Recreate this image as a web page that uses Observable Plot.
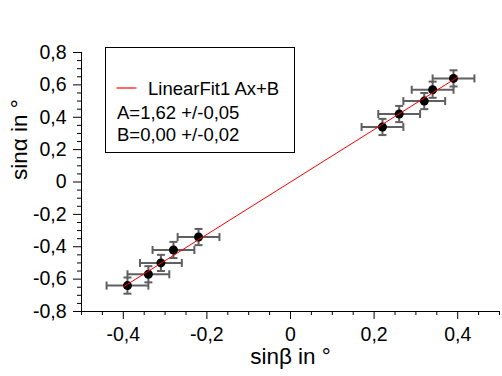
<!DOCTYPE html>
<html>
<head>
<meta charset="utf-8">
<script src="https://cdn.jsdelivr.net/npm/d3@7"></script>
<script src="https://cdn.jsdelivr.net/npm/@observablehq/plot@0.6"></script>
<style>
  html, body { margin: 0; padding: 0; background: #fff; }
</style>
</head>
<body>
<div id="chart"></div>
<script>
// Data
const sinBeta  = [-0.39, -0.34, -0.31, -0.28, -0.22, 0.22, 0.26, 0.32, 0.34, 0.39];
const sinAlpha = [-0.64, -0.57, -0.50, -0.42, -0.34, 0.34, 0.42, 0.50, 0.57, 0.64];
const errBeta  = [0.05, 0.05, 0.05, 0.05, 0.05, 0.05, 0.05, 0.05, 0.05, 0.05];
const errAlpha = [0.05, 0.05, 0.05, 0.05, 0.05, 0.05, 0.05, 0.05, 0.05, 0.05];

// Linear fit endpoints (A=1.62, B=0.00)
const fitX = [-0.40, 0.40];
const fitY = [-0.648, 0.648];

// Axis ticks
const xMajor = [-0.4, -0.2, 0, 0.2, 0.4];
const xMinor = [-0.5, -0.45, -0.35, -0.3, -0.25, -0.15, -0.1, -0.05, 0.05, 0.1, 0.15, 0.25, 0.3, 0.35, 0.45, 0.5];
const yMajor = [-0.8, -0.6, -0.4, -0.2, 0, 0.2, 0.4, 0.6, 0.8];
const yMinor = [-0.75, -0.7, -0.65, -0.55, -0.5, -0.45, -0.35, -0.3, -0.25, -0.15, -0.1, -0.05,
                0.05, 0.1, 0.15, 0.25, 0.3, 0.35, 0.45, 0.5, 0.55, 0.65, 0.7, 0.75];

const legendLines = ["LinearFit1 Ax+B", "A=1,62 +/-0,05", "B=0,00 +/-0,02"];
const xLabel = "sinβ in °";
const yLabel = "sinα in °";

const data = sinBeta.map((x, i) => ({x, y: sinAlpha[i], ex: errBeta[i], ey: errAlpha[i]}));
const fit = fitX.map((x, i) => ({x, y: fitY[i]}));

const fmt = d => Math.abs(d) < 1e-9 ? "0" : d.toFixed(1).replace(".", ",");

const vbar = {draw(ctx, size) { const r = Math.sqrt(size / Math.PI); ctx.moveTo(0, -r); ctx.lineTo(0, r); }};
const hbar = {draw(ctx, size) { const r = Math.sqrt(size / Math.PI); ctx.moveTo(-r, 0); ctx.lineTo(r, 0); }};

const errColor = "#5f5f5f";

const svg = Plot.plot({
  width: 502,
  height: 376,
  marginLeft: 81,
  marginRight: 3,
  marginTop: 52,
  marginBottom: 65,
  style: {fontFamily: "'Liberation Sans', Arial, sans-serif", fontSize: "18px", background: "#fff", color: "#000"},
  x: {domain: [-0.5, 0.5]},
  y: {domain: [-0.8, 0.8]},
  marks: [
    Plot.axisX(xMajor, {tickSize: 8, tickPadding: 8, tickFormat: fmt, label: null, stroke: "#000", fontSize: 19.5}),
    Plot.axisX(xMinor, {tickSize: 4, text: null, label: null, stroke: "#000"}),
    Plot.axisY(yMajor, {tickSize: 8, tickPadding: 7, tickFormat: fmt, label: null, stroke: "#000", fontSize: 19.5}),
    Plot.axisY(yMinor, {tickSize: 4, text: null, label: null, stroke: "#000"}),
    Plot.ruleX([-0.5], {stroke: "#000"}),
    Plot.ruleY([-0.8], {stroke: "#000"}),
    // error bars
    Plot.ruleY(data, {y: "y", x1: d => d.x - d.ex, x2: d => d.x + d.ex, stroke: errColor, strokeWidth: 2}),
    Plot.ruleX(data, {x: "x", y1: d => d.y - d.ey, y2: d => d.y + d.ey, stroke: errColor, strokeWidth: 2}),
    Plot.dot(data, {x: d => d.x - d.ex, y: "y", symbol: vbar, r: 4, stroke: errColor, strokeWidth: 2, fill: "none"}),
    Plot.dot(data, {x: d => d.x + d.ex, y: "y", symbol: vbar, r: 4, stroke: errColor, strokeWidth: 2, fill: "none"}),
    Plot.dot(data, {x: "x", y: d => d.y - d.ey, symbol: hbar, r: 4, stroke: errColor, strokeWidth: 2, fill: "none"}),
    Plot.dot(data, {x: "x", y: d => d.y + d.ey, symbol: hbar, r: 4, stroke: errColor, strokeWidth: 2, fill: "none"}),
    // points
    Plot.dot(data, {x: "x", y: "y", r: 4.5, fill: "#000", stroke: null}),
    // fit line
    Plot.line(fit, {x: "x", y: "y", stroke: "#ff0000", strokeWidth: 1}),
    // axis labels
    Plot.text([xLabel], {frameAnchor: "bottom", lineAnchor: "bottom", dy: 52, fontSize: 22.5, fill: "#000"}),
    Plot.text([yLabel], {frameAnchor: "left", lineAnchor: "bottom", rotate: -90, dx: -55, dy: -2, fontSize: 22.5, fill: "#000"})
  ]
});

// Legend box (inside plot area, top-left)
const g = d3.select(svg).append("g")
  .attr("font-family", "'Liberation Sans', Arial, sans-serif")
  .attr("font-size", 18.5)
  .attr("text-anchor", "start")
  .attr("fill", "#000");
g.append("rect").attr("x", 105.5).attr("y", 47.5).attr("width", 189).attr("height", 105)
  .attr("fill", "#fff").attr("stroke", "#000").attr("stroke-width", 1);
g.append("line").attr("x1", 116.5).attr("x2", 136.5).attr("y1", 88).attr("y2", 88)
  .attr("stroke", "#ff6a6a").attr("stroke-width", 2);
g.append("text").attr("x", 148).attr("y", 95).text(legendLines[0]);
g.append("text").attr("x", 117).attr("y", 119).text(legendLines[1]);
g.append("text").attr("x", 117).attr("y", 141).text(legendLines[2]);

document.getElementById("chart").appendChild(svg);
</script>
</body>
</html>
